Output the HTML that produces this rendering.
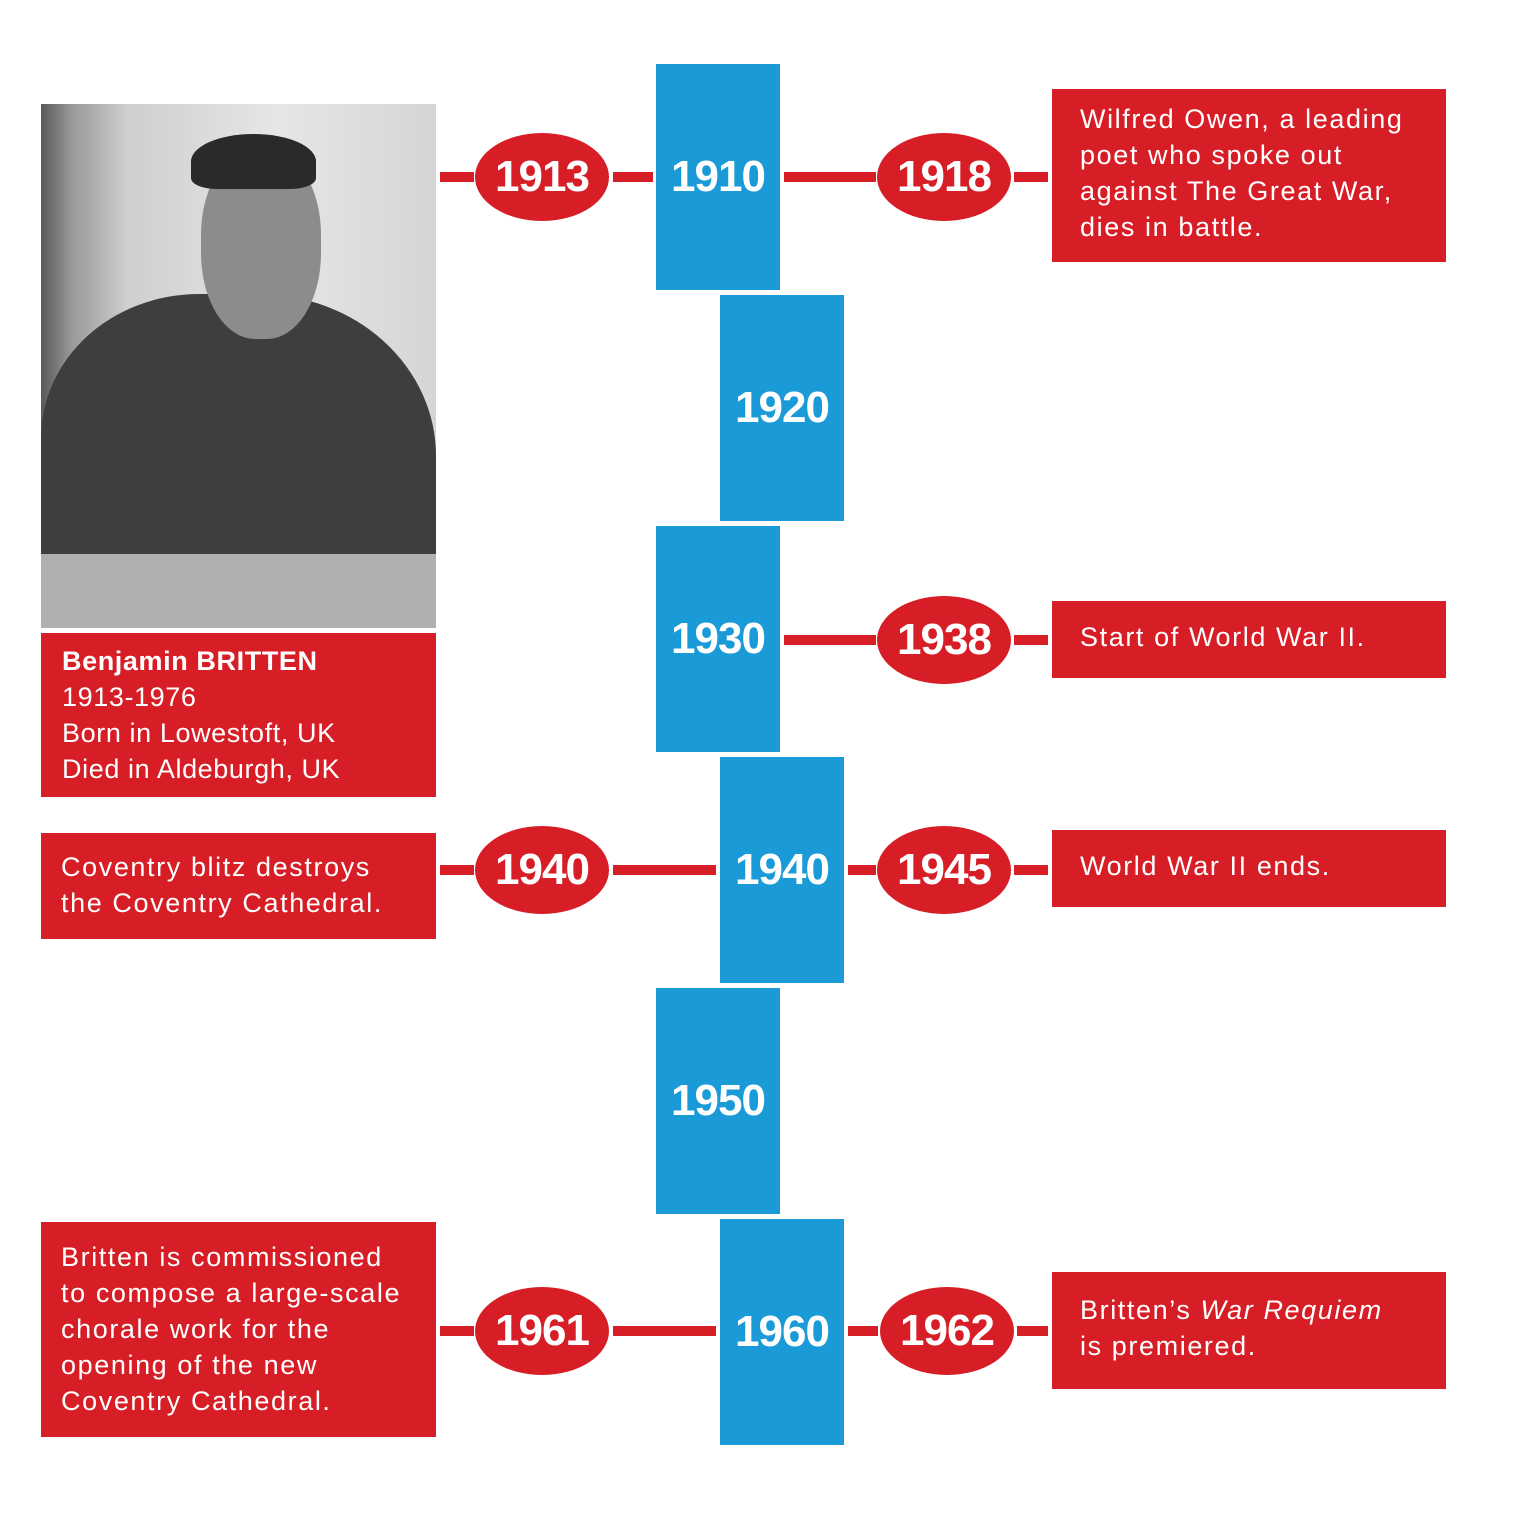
<!DOCTYPE html>
<html><head><style>
body{margin:0;background:#fff;width:1536px;height:1516px;position:relative;overflow:hidden;font-family:"Liberation Sans",sans-serif}
.b{position:absolute;width:124px;height:226px;background:#1a9ad6;color:#fff;font-weight:bold;font-size:44px;display:flex;align-items:center;justify-content:center;letter-spacing:-1px}
.e{position:absolute;width:134px;height:88px;border-radius:50%;background:#d71e26;color:#fff;font-weight:bold;font-size:44px;display:flex;align-items:center;justify-content:center;letter-spacing:-1px}
.l{position:absolute;height:10px;background:#d71e26}
.r{position:absolute;background:#d71e26;color:#fff;font-size:27px;line-height:36px;box-sizing:border-box;padding-left:28px;letter-spacing:1.6px;white-space:nowrap}
</style></head><body>
<div class="b" style="left:656px;top:64px">1910</div>
<div class="b" style="left:720px;top:295px">1920</div>
<div class="b" style="left:656px;top:526px">1930</div>
<div class="b" style="left:720px;top:757px">1940</div>
<div class="b" style="left:656px;top:988px">1950</div>
<div class="b" style="left:720px;top:1219px">1960</div>

<div class="l" style="left:440px;top:172px;width:34px"></div>
<div class="l" style="left:613px;top:172px;width:40px"></div>
<div class="l" style="left:784px;top:172px;width:92px"></div>
<div class="l" style="left:1014px;top:172px;width:34px"></div>
<div class="l" style="left:784px;top:635px;width:92px"></div>
<div class="l" style="left:1014px;top:635px;width:34px"></div>
<div class="l" style="left:440px;top:865px;width:34px"></div>
<div class="l" style="left:613px;top:865px;width:103px"></div>
<div class="l" style="left:848px;top:865px;width:28px"></div>
<div class="l" style="left:1014px;top:865px;width:34px"></div>
<div class="l" style="left:440px;top:1326px;width:34px"></div>
<div class="l" style="left:613px;top:1326px;width:103px"></div>
<div class="l" style="left:848px;top:1326px;width:30px"></div>
<div class="l" style="left:1017px;top:1326px;width:31px"></div>

<div class="e" style="left:475px;top:133px">1913</div>
<div class="e" style="left:877px;top:133px">1918</div>
<div class="e" style="left:877px;top:596px">1938</div>
<div class="e" style="left:475px;top:826px">1940</div>
<div class="e" style="left:877px;top:826px">1945</div>
<div class="e" style="left:475px;top:1287px">1961</div>
<div class="e" style="left:880px;top:1287px">1962</div>

<div style="position:absolute;left:41px;top:104px;width:395px;height:524px;background:linear-gradient(90deg,#5a5a5a 0,#9a9a9a 8%,#cfcfcf 22%,#e6e6e6 60%,#d5d5d5 100%);overflow:hidden">
<div style="position:absolute;left:0;top:380px;width:395px;height:144px;background:#8a8a8a"></div>
<div style="position:absolute;left:0px;top:190px;width:395px;height:360px;background:#3e3e3e;border-radius:40% 45% 5% 5%"></div>
<div style="position:absolute;left:160px;top:45px;width:120px;height:190px;background:#8c8c8c;border-radius:45%"></div>
<div style="position:absolute;left:150px;top:30px;width:125px;height:55px;background:#2a2a2a;border-radius:50% 50% 20% 20%"></div>
<div style="position:absolute;left:0;top:450px;width:395px;height:74px;background:#b0b0b0"></div>
</div>
<div class="r" style="left:41px;top:633px;width:395px;height:164px;padding-left:21px;padding-top:10px;line-height:36px;letter-spacing:0.6px"><b>Benjamin BRITTEN</b><br>1913-1976<br>Born in Lowestoft, UK<br>Died in Aldeburgh, UK</div>
<div class="r" style="left:41px;top:833px;width:395px;height:106px;padding-left:20px;padding-top:16px">Coventry blitz destroys<br>the Coventry Cathedral.</div>
<div class="r" style="left:41px;top:1222px;width:395px;height:215px;padding-left:20px;padding-top:17px">Britten is commissioned<br>to compose a large-scale<br>chorale work for the<br>opening of the new<br>Coventry Cathedral.</div>
<div class="r" style="left:1052px;top:89px;width:394px;height:173px;padding-top:12px">Wilfred Owen, a leading<br>poet who spoke out<br>against The Great War,<br>dies in battle.</div>
<div class="r" style="left:1052px;top:601px;width:394px;height:77px;padding-top:18px">Start of World War II.</div>
<div class="r" style="left:1052px;top:830px;width:394px;height:77px;padding-top:18px">World War II ends.</div>
<div class="r" style="left:1052px;top:1272px;width:394px;height:117px;padding-top:20px">Britten’s <i>War Requiem</i><br>is premiered.</div>
</body></html>
